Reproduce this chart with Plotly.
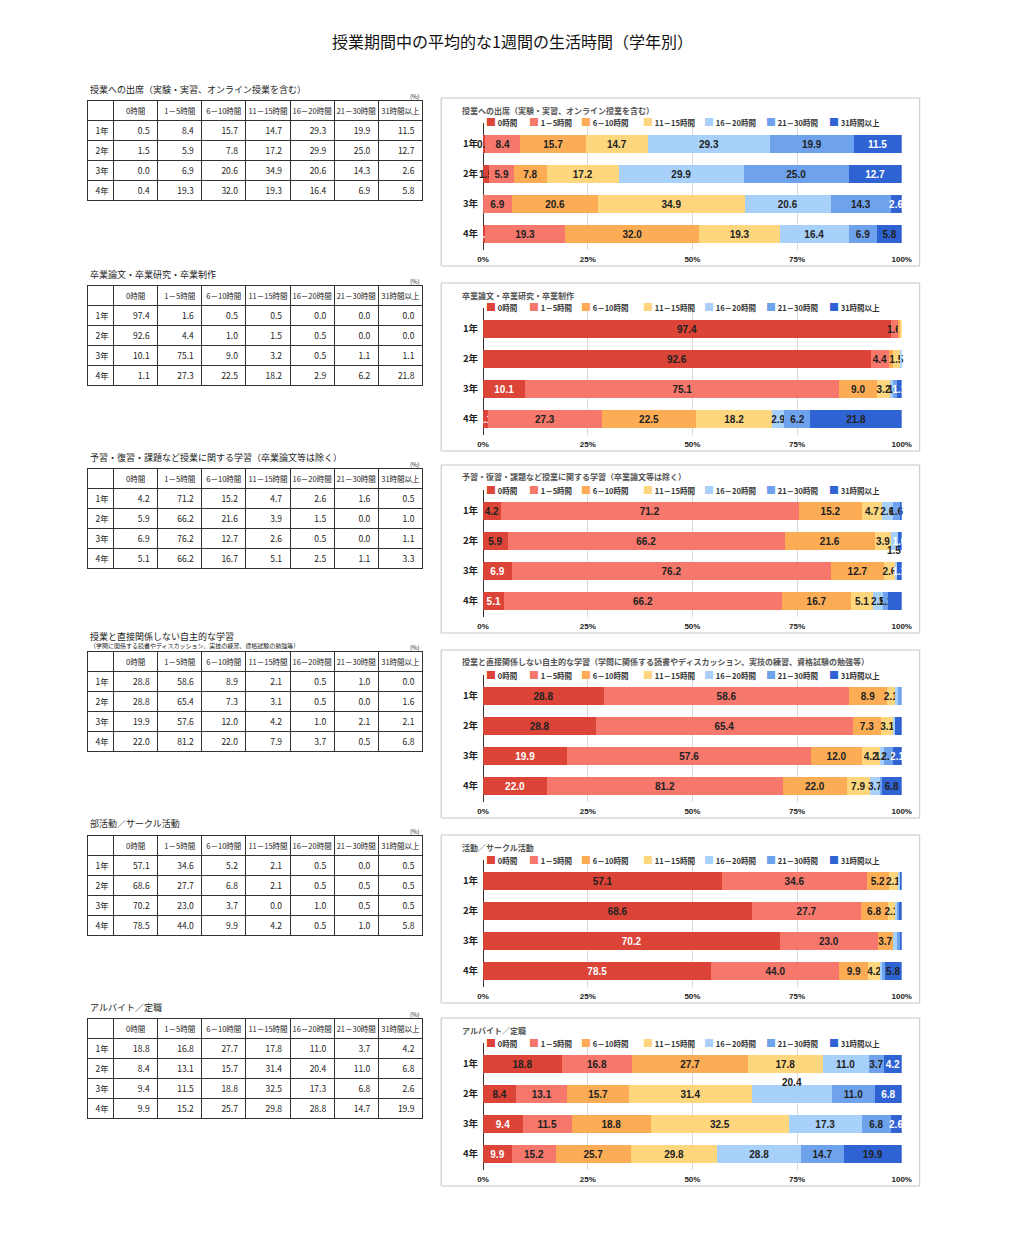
import plotly.graph_objects as go

# page body keeps an 8px margin, so the figure is 16px smaller than the window
PAGE_W, PAGE_H = 1024, 1239
M = 8
W, H = PAGE_W - 2 * M, PAGE_H - 2 * M
# measured horizontal mapping of the photographed page: screen = SX * fig_x + OX
SX, OX = 0.985, 13.5

# ---------------- data ----------------
main_title = "授業期間中の平均的な1週間の生活時間（学年別）"
grades = ["1年", "2年", "3年", "4年"]
categories = ["0時間", "1－5時間", "6－10時間", "11－15時間", "16－20時間", "21－30時間", "31時間以上"]

table_titles = [
    "授業への出席（実験・実習、オンライン授業を含む）",
    "卒業論文・卒業研究・卒業制作",
    "予習・復習・課題など授業に関する学習（卒業論文等は除く）",
    "授業と直接関係しない自主的な学習",
    "部活動／サークル活動",
    "アルバイト／定職",
]
table4_subtitle = "（学問に関係する読書やディスカッション、実技の練習、資格試験の勉強等）"
chart_titles = [
    "授業への出席（実験・実習、オンライン授業を含む）",
    "卒業論文・卒業研究・卒業制作",
    "予習・復習・課題など授業に関する学習（卒業論文等は除く）",
    "授業と直接関係しない自主的な学習（学問に関係する読書やディスカッション、実技の練習、資格試験の勉強等）",
    "活動／サークル活動",
    "アルバイト／定職",
]

attendance = [
    [0.5, 8.4, 15.7, 14.7, 29.3, 19.9, 11.5],
    [1.5, 5.9, 7.8, 17.2, 29.9, 25.0, 12.7],
    [0.0, 6.9, 20.6, 34.9, 20.6, 14.3, 2.6],
    [0.4, 19.3, 32.0, 19.3, 16.4, 6.9, 5.8],
]
thesis = [
    [97.4, 1.6, 0.5, 0.5, 0.0, 0.0, 0.0],
    [92.6, 4.4, 1.0, 1.5, 0.5, 0.0, 0.0],
    [10.1, 75.1, 9.0, 3.2, 0.5, 1.1, 1.1],
    [1.1, 27.3, 22.5, 18.2, 2.9, 6.2, 21.8],
]
coursework = [
    [4.2, 71.2, 15.2, 4.7, 2.6, 1.6, 0.5],
    [5.9, 66.2, 21.6, 3.9, 1.5, 0.0, 1.0],
    [6.9, 76.2, 12.7, 2.6, 0.5, 0.0, 1.1],
    [5.1, 66.2, 16.7, 5.1, 2.5, 1.1, 3.3],
]
self_study = [
    [28.8, 58.6, 8.9, 2.1, 0.5, 1.0, 0.0],
    [28.8, 65.4, 7.3, 3.1, 0.5, 0.0, 1.6],
    [19.9, 57.6, 12.0, 4.2, 1.0, 2.1, 2.1],
    [22.0, 81.2, 22.0, 7.9, 3.7, 0.5, 6.8],
]
club = [
    [57.1, 34.6, 5.2, 2.1, 0.5, 0.0, 0.5],
    [68.6, 27.7, 6.8, 2.1, 0.5, 0.5, 0.5],
    [70.2, 23.0, 3.7, 0.0, 1.0, 0.5, 0.5],
    [78.5, 44.0, 9.9, 4.2, 0.5, 1.0, 5.8],
]
part_time = [
    [18.8, 16.8, 27.7, 17.8, 11.0, 3.7, 4.2],
    [8.4, 13.1, 15.7, 31.4, 20.4, 11.0, 6.8],
    [9.4, 11.5, 18.8, 32.5, 17.3, 6.8, 2.6],
    [9.9, 15.2, 25.7, 29.8, 28.8, 14.7, 19.9],
]
datasets = [attendance, thesis, coursework, self_study, club, part_time]
x_ticks = [0, 25, 50, 75, 100]

# ---------------- style ----------------
colors = ["#db4437", "#f6776b", "#fbac55", "#fdd67e", "#a7d0fb", "#6ea2ec", "#2f63d3"]
FONT = "Noto Sans CJK JP"
LABEL_FONT = "Liberation Sans, Arial, sans-serif"
label_min = [0.1, 1.05, 1.05, 1.05, 1.05, 1.05]   # smallest value that gets a label
forced_labels = [(2, 1, 6), (3, 2, 4)]            # small labels the reference still draws
# labels Google Charts drew off the bar: (chart, row, category, pixel shift)
moved_labels = [(2, 1, 4, -9), (5, 1, 4, 12)]

table_tops = [100, 285, 468, 651, 835, 1018]
box_tops = [98, 283, 465, 650, 835, 1018]
legend_offsets = [0, 43, 95, 157, 218, 280, 343]

def py(p):
    return 1 - (p - M) / H

def px(p):
    return ((p - OX) / SX) / W

def label_color(c, r):
    if c == 0:
        return "white" if r >= 2 else "#222"
    if c == 6:
        return "white" if r <= 2 else "#222"
    return "#222"

fig = go.Figure()
annotations = []
shapes = []
layout_axes = {}

annotations.append(dict(text=main_title, x=px(512), y=py(41), xref="paper", yref="paper",
                        showarrow=False, font=dict(size=16, color="#111", family=FONT),
                        xanchor="center", yanchor="middle"))

# ---------------- tables ----------------
for k, data in enumerate(datasets):
    top = table_tops[k]
    cols = [[f"{data[r][c]:.1f}" for r in range(4)] for c in range(7)]
    fig.add_trace(go.Table(
        domain=dict(x=[px(87), px(423)], y=[py(top + 115), py(top)]),
        columnwidth=[26] + [44] * 7,
        header=dict(values=[""] + categories, height=20, align="center",
                    line=dict(color="#333", width=1), fill=dict(color="white"),
                    font=dict(size=7.5, color="#222", family=FONT)),
        cells=dict(values=[grades] + cols, height=20, align=["left"] + ["right"] * 7,
                   line=dict(color="#333", width=1), fill=dict(color="white"),
                   font=dict(size=8.5, color="#222", family=FONT)),
    ))
    if k == 3:
        annotations.append(dict(text=table_titles[k], x=px(88), y=py(top - 15), xref="paper", yref="paper",
                                showarrow=False, xanchor="left", yanchor="middle",
                                font=dict(size=9, color="#222", family=FONT)))
        annotations.append(dict(text=table4_subtitle, x=px(88), y=py(top - 6), xref="paper", yref="paper",
                                showarrow=False, xanchor="left", yanchor="middle",
                                font=dict(size=6, color="#222", family=FONT)))
    else:
        annotations.append(dict(text=table_titles[k], x=px(88), y=py(top - 11), xref="paper", yref="paper",
                                showarrow=False, xanchor="left", yanchor="middle",
                                font=dict(size=9, color="#222", family=FONT)))
    annotations.append(dict(text="(%)", x=px(422), y=py(top - 4), xref="paper", yref="paper",
                            showarrow=False, xanchor="right", yanchor="middle",
                            font=dict(size=6, color="#222", family=FONT)))

# ---------------- charts ----------------
for k, data in enumerate(datasets):
    B = box_tops[k]
    n = k + 1
    xa = "x" if n == 1 else f"x{n}"
    ya = "y" if n == 1 else f"y{n}"
    for c, cat in enumerate(categories):
        vals = [data[r][c] for r in range(4)]
        texts = []
        for r, v in enumerate(vals):
            moved = any(m[0] == k and m[1] == r and m[2] == c for m in moved_labels)
            forced = (k, r, c) in forced_labels
            show = (v >= label_min[k] or forced) and v > 0 and not moved
            texts.append(f"{v:.1f}" if show else "")
        fig.add_trace(go.Bar(
            orientation="h", x=vals, y=grades, name=cat, xaxis=xa, yaxis=ya,
            marker=dict(color=colors[c], line=dict(width=0)),
            text=texts, textposition="inside", insidetextanchor="middle", textangle=0,
            textfont=dict(size=10, family=LABEL_FONT, weight="bold",
                          color=[label_color(c, r) for r in range(4)]),
            cliponaxis=False, showlegend=False, hoverinfo="skip",
        ))
    # moved labels, positioned through the axis scale
    for (mk, mr, mc, shift) in moved_labels:
        if mk != k:
            continue
        row = data[mr]
        tot = sum(row)
        xc = (sum(row[:mc]) + row[mc] / 2) / tot * 100
        annotations.append(dict(text=f"{row[mc]:.1f}", x=xc, y=grades[mr], xref=xa, yref=ya,
                                showarrow=False, yshift=shift,
                                font=dict(size=10, family=LABEL_FONT, weight="bold", color="#222")))

    key = "xaxis" if n == 1 else f"xaxis{n}"
    ykey = "yaxis" if n == 1 else f"yaxis{n}"
    layout_axes[key] = dict(domain=[px(483), px(902)], anchor=ya, range=[0, 100],
                            tickvals=x_ticks, ticktext=[f"{t}%" for t in x_ticks],
                            showgrid=True, gridcolor="#d9d9d9", gridwidth=1,
                            zeroline=True, zerolinecolor="#333", zerolinewidth=1,
                            showline=False, ticks="", ticklabelstandoff=3,
                            tickfont=dict(size=8, color="#222", family=LABEL_FONT, weight="bold"),
                            fixedrange=True)
    layout_axes[ykey] = dict(domain=[py(B + 152), py(B + 25)], anchor=xa, type="category",
                             categoryorder="array", categoryarray=grades,
                             range=[3.533, -0.7], showgrid=False, zeroline=False, ticks="",
                             ticklabelstandoff=4,
                             tickfont=dict(size=9.5, color="#222", family=FONT, weight="bold"),
                             fixedrange=True)
    # box
    shapes.append(dict(type="rect", xref="paper", yref="paper",
                       x0=px(441), x1=px(920), y0=py(B + 168), y1=py(B),
                       line=dict(color="#c6c6c6", width=1), fillcolor="rgba(0,0,0,0)", layer="below"))
    # chart title
    annotations.append(dict(text=chart_titles[k], x=px(460), y=py(B + 12), xref="paper", yref="paper",
                            showarrow=False, xanchor="left", yanchor="middle",
                            font=dict(size=8, color="#555", family=FONT, weight="bold")))
    # legend row
    for c, cat in enumerate(categories):
        annotations.append(dict(
            text=f'<span style="color:{colors[c]};font-size:10px">■</span> {cat}',
            x=px(484 + legend_offsets[c]), y=py(B + 24), xref="paper", yref="paper",
            showarrow=False, xanchor="left", yanchor="middle",
            font=dict(size=7.5, color="#333", family=FONT, weight="bold")))

fig.update_layout(
    width=W, height=H, margin=dict(l=0, r=0, t=0, b=0),
    paper_bgcolor="white", plot_bgcolor="white",
    barmode="stack", barnorm="percent", bargap=0.37,
    uniformtext=dict(mode="show", minsize=10),
    annotations=annotations, shapes=shapes, showlegend=False,
    **layout_axes,
)

fig.write_html("out.html")
